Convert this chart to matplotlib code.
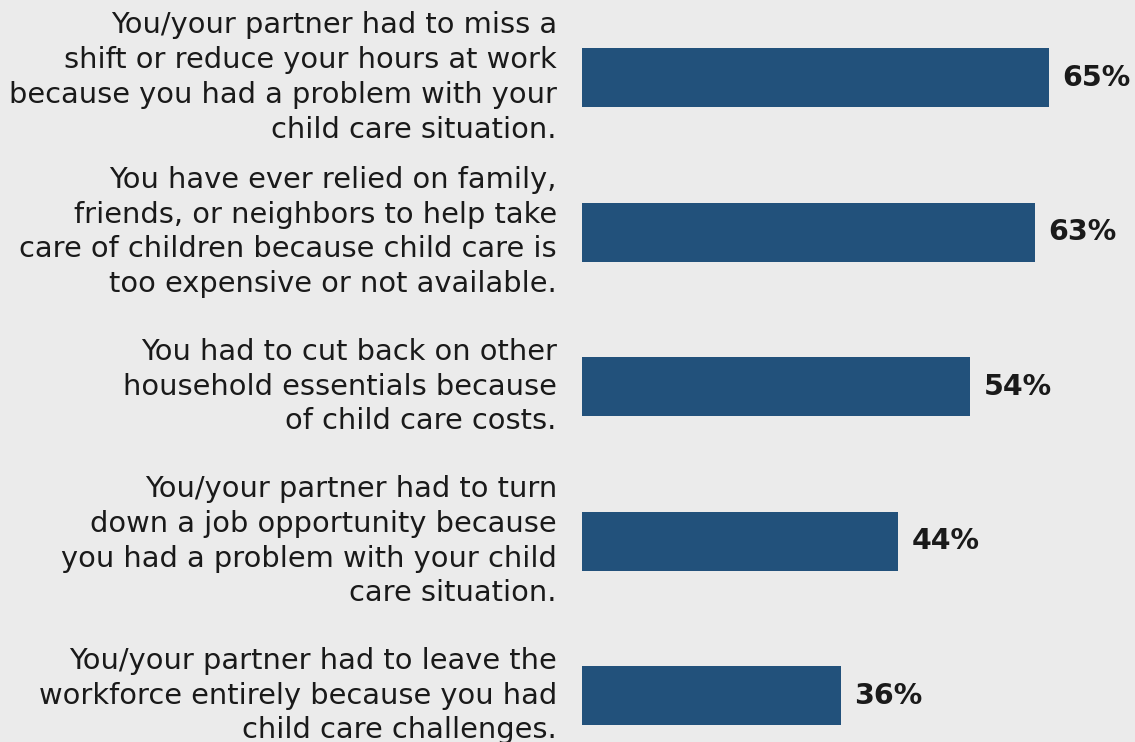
import matplotlib
matplotlib.use("Agg")
import matplotlib.pyplot as plt

categories = [
    "You/your partner had to miss a\nshift or reduce your hours at work\nbecause you had a problem with your\nchild care situation.",
    "You have ever relied on family,\nfriends, or neighbors to help take\ncare of children because child care is\ntoo expensive or not available.",
    "You had to cut back on other\nhousehold essentials because\nof child care costs.",
    "You/your partner had to turn\ndown a job opportunity because\nyou had a problem with your child\ncare situation.",
    "You/your partner had to leave the\nworkforce entirely because you had\nchild care challenges.",
]
values = [65, 63, 54, 44, 36]
value_labels = ["65%", "63%", "54%", "44%", "36%"]

BG = "#ebebeb"
BAR = "#22517b"
TXT = "#1a1a1a"

fig = plt.figure(figsize=(11.35, 7.42), dpi=100, facecolor=BG)
ax = fig.add_axes([0, 0, 1, 1], facecolor=BG)

y = list(range(len(values)))
ax.barh(y, values, height=0.382, color=BAR, left=0)

for yi, cat, v, lab in zip(y, categories, values, value_labels):
    ax.text(-3.5, yi, cat, ha="right", va="center", fontsize=20.8,
            family="DejaVu Sans", color=TXT, linespacing=1.31)
    ax.text(v + 1.9, yi, lab, ha="left", va="center", fontsize=20.5,
            family="DejaVu Sans", fontweight="bold", color=TXT)

ax.set_xlim(-81.0, 76.97)
ax.set_ylim(4.30, -0.502)
ax.axis("off")

fig.savefig("out.png", dpi=100, facecolor=BG)
